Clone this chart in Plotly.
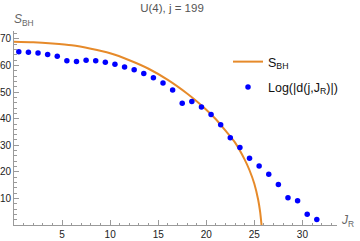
import plotly.graph_objects as go

# S_BH curve
sbh_x = [0, 2, 4, 6, 8, 10, 12, 14, 16, 18, 19, 20, 21, 22, 23, 24, 24.5, 25, 25.4, 25.6, 25.75]
sbh_y = [69.0, 68.8, 68.3, 67.6, 66.3, 64.6, 62.0, 58.8, 54.6, 49.5, 46.6, 43.4, 39.8, 35.5, 31.0, 24.6, 20.6, 15.5, 9.5, 5.0, 0.0]

# Log(|d(j,J_R)|) points
jr = [0.5, 1.5, 2.5, 3.5, 4.5, 5.5, 6.5, 7.5, 8.5, 9.5, 10.5, 11.5, 12.5, 13.5, 14.5, 15.5,
      16.5, 17.5, 18.5, 19.5, 20.5, 21.5, 22.5, 23.5, 24.5, 25.5, 26.5, 27.5, 28.5, 29.5, 30.5, 31.5]
logd = [65.2, 65.0, 64.7, 64.2, 63.5, 61.8, 61.5, 62.0, 61.8, 61.2, 60.5, 59.5, 58.4, 57.0, 55.4, 53.4,
        50.8, 45.8, 46.5, 44.4, 41.6, 37.7, 32.8, 29.2, 25.1, 22.2, 19.1, 15.2, 10.3, 9.1, 4.0, 2.1]

x_ticks = [5, 10, 15, 20, 25, 30]
y_ticks = [10, 20, 30, 40, 50, 60, 70]

FONT = "Liberation Sans, Arial, sans-serif"
AXIS = "#9a9a9a"

W, H = 360, 241
ML, MR, MT, MB = 14, 23, 31, 16
PW, PH = W - ML - MR, H - MT - MB


def px_to_paper(px, py):
    return (px - ML) / PW, (H - MB - py) / PH


lx, ly = px_to_paper(228, 47)
sx, sy = px_to_paper(24, 20)
jx, jy = px_to_paper(347, 221)

fig = go.Figure()
fig.add_trace(go.Scatter(x=sbh_x, y=sbh_y, mode="lines", line=dict(color="#E68A2A", width=2, shape="spline", smoothing=0.6),
                         name="S<sub>BH</sub>", legendgroup="a"))
fig.add_trace(go.Scatter(x=jr, y=logd, mode="markers", marker=dict(color="#0000FF", size=5.5),
                         name="Log(|d(j,J<sub>R</sub>)|)", legendgroup="b"))

fig.update_layout(
    width=W, height=H,
    margin=dict(l=ML, r=MR, t=MT, b=MB),
    paper_bgcolor="white", plot_bgcolor="white",
    font=dict(family=FONT, size=10, color="#222"),
    title=dict(text="U(4), j = 199", x=172 / W, xanchor="center", y=1 - 8 / H, yanchor="middle",
               font=dict(family=FONT, size=11.5, color="#555")),
    showlegend=True,
    legend=dict(x=lx, y=ly, xanchor="left", yanchor="top", bgcolor="rgba(0,0,0,0)",
                font=dict(family=FONT, size=12.5, color="#111"), tracegroupgap=6, itemwidth=30),
    xaxis=dict(range=[0, 33.6], showgrid=False, zeroline=False, showline=True, linecolor=AXIS, linewidth=1,
               tickvals=x_ticks, ticks="inside", ticklen=5, tickcolor=AXIS, tickfont=dict(size=10, color="#222"),
               minor=dict(dtick=1, ticks="inside", ticklen=2.5, tickcolor=AXIS, showgrid=False),
               automargin=False, fixedrange=True),
    yaxis=dict(range=[0, 73], showgrid=False, zeroline=False, showline=True, linecolor=AXIS, linewidth=1,
               tickvals=y_ticks, ticks="inside", ticklen=5, tickcolor=AXIS, tickfont=dict(size=10, color="#222"),
               minor=dict(dtick=2, ticks="inside", ticklen=2.5, tickcolor=AXIS, showgrid=False),
               automargin=False, fixedrange=True),
    annotations=[
        dict(text="<i>S</i><sub>BH</sub>", x=sx, y=sy, xref="paper", yref="paper", xanchor="center",
             yanchor="middle", showarrow=False, font=dict(family=FONT, size=12, color="#666")),
        dict(text="<i>J</i><sub>R</sub>", x=jx, y=jy, xref="paper", yref="paper", xanchor="center",
             yanchor="middle", showarrow=False, font=dict(family=FONT, size=12, color="#666")),
    ],
)

fig.write_html("out.html", config={"displayModeBar": False},
               post_script="document.body.style.margin='0';document.body.style.overflow='hidden';")
